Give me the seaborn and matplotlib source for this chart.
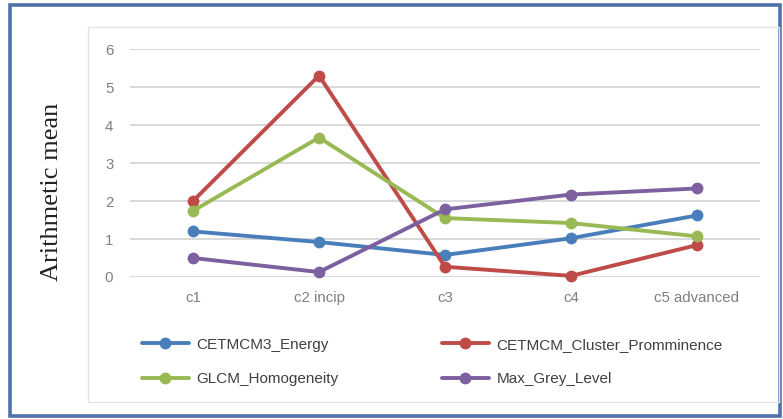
import matplotlib
matplotlib.use("Agg")
import matplotlib.pyplot as plt
import matplotlib.patches as mpatches
from matplotlib.lines import Line2D
import seaborn as sns
import pandas as pd

categories = ["c1", "c2 incip", "c3", "c4", "c5 advanced"]
series_names = ["CETMCM3_Energy", "CETMCM_Cluster_Promminence", "GLCM_Homogeneity", "Max_Grey_Level"]
energy = [1.20, 0.92, 0.58, 1.02, 1.62]
cluster_prom = [2.00, 5.30, 0.27, 0.03, 0.84]
homogeneity = [1.74, 3.67, 1.55, 1.42, 1.07]
max_grey = [0.50, 0.13, 1.78, 2.17, 2.33]
yticks = [0, 1, 2, 3, 4, 5, 6]
ylabel = "Arithmetic mean"

colors = ["#4a7ebb", "#be4b48", "#98b954", "#7d60a0"]

rows = []
for name, vals in zip(series_names, [energy, cluster_prom, homogeneity, max_grey]):
    for i, (c, v) in enumerate(zip(categories, vals)):
        rows.append({"idx": i, "category": c, "series": name, "value": v})
df = pd.DataFrame(rows)

sns.set_style("white")
plt.rcParams["font.family"] = ["Liberation Sans", "DejaVu Sans"]

W, H = 783, 419
fig = plt.figure(figsize=(W / 100, H / 100), dpi=100)
fig.patch.set_facecolor("white")

# outer blue frame and inner grey chart border
fig.patches.append(mpatches.Rectangle((9.5 / W, 1 - 416 / H), (780 - 9.5) / W, (416 - 5.5) / H,
                                      transform=fig.transFigure, fill=False,
                                      edgecolor="#4f73a8", linewidth=2.6))
fig.patches.append(mpatches.Rectangle((88 / W, 1 - 402 / H), (779 - 88) / W, (402 - 27) / H,
                                      transform=fig.transFigure, fill=False,
                                      edgecolor="#e4e4e4", linewidth=1.0))

ax = fig.add_axes([130 / W, 1 - 277 / H, (760 - 130) / W, (277 - 49) / H])
sns.lineplot(data=df, x="idx", y="value", hue="series", hue_order=series_names,
             palette=colors, marker="o", markersize=8.5, markeredgewidth=0,
             linewidth=2.8, sort=False, legend=False, ax=ax)
for ln in ax.get_lines():
    ln.set_clip_on(False)

ax.set_xlim(-0.5, 4.5)
ax.set_ylim(0, 6)
ax.set_yticks(yticks)
ax.set_yticklabels([str(t) for t in yticks])
ax.set_xticks(range(len(categories)))
ax.set_xticklabels(categories)
ax.grid(axis="y", color="#d9d9d9", linewidth=1.4)
ax.set_axisbelow(True)
for s in ax.spines.values():
    s.set_visible(False)
ax.tick_params(axis="both", length=0, labelsize=10.8, colors="#7f7f7f")
ax.tick_params(axis="y", pad=12)
ax.tick_params(axis="x", pad=10)
ax.set_xlabel("")
ax.set_ylabel("")

fig.text(52 / W, 1 - 192 / H, ylabel, rotation=90, ha="center", va="center",
         fontsize=19, family=["Liberation Serif", "DejaVu Serif"], color="#222222")

def handle(c):
    return Line2D([0], [0], color=c, linewidth=2.8, marker="o", markersize=8.5, markeredgewidth=0)

leg_kw = dict(loc="upper left", frameon=False, fontsize=11, labelspacing=1.35,
              handlelength=3.1, handletextpad=0.5, borderpad=0, labelcolor="#404040")
fig.legend([handle(colors[0]), handle(colors[2])], [series_names[0], series_names[2]],
           bbox_to_anchor=(134 / W, 1 - 330 / H), **leg_kw)
fig.legend([handle(colors[1]), handle(colors[3])], [series_names[1], series_names[3]],
           bbox_to_anchor=(434 / W, 1 - 330 / H), **leg_kw)

fig.savefig("out.png", dpi=100, facecolor="white")
